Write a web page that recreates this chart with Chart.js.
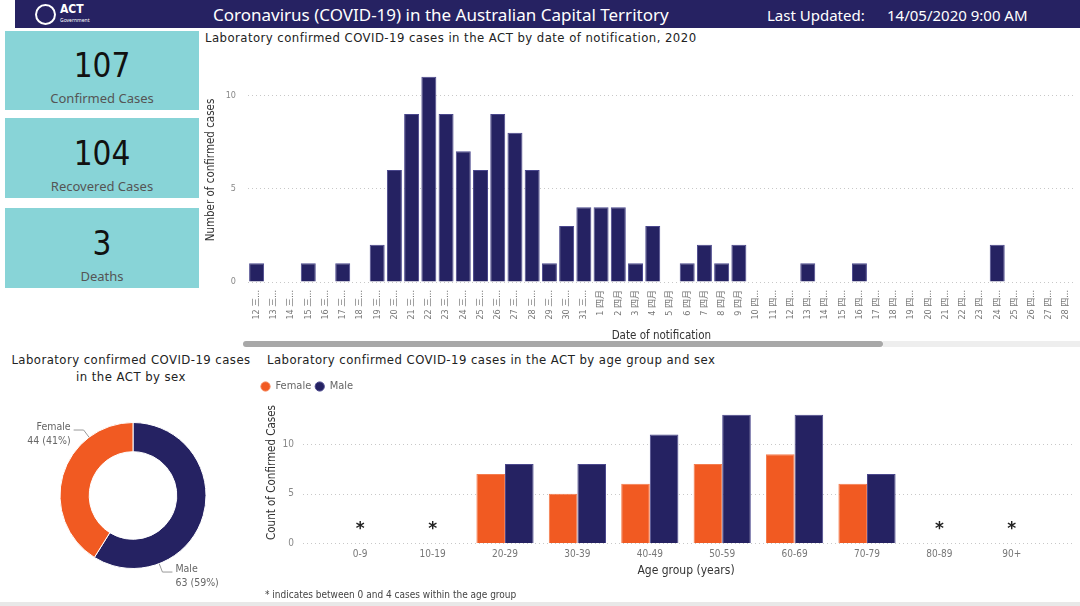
<!DOCTYPE html>
<html>
<head>
<meta charset="utf-8">
<script src="https://cdn.jsdelivr.net/npm/chart.js@4"></script>
<style>
body{margin:0;width:1080px;height:606px;overflow:hidden;background:#fff;position:relative;font-family:"DejaVu Sans Condensed","Noto Sans CJK SC",sans-serif;}
.abs{position:absolute;}
#header{left:15px;top:0;width:1065px;height:28px;background:#262262;}
.htxt{color:#fff;font-family:"Noto Sans",sans-serif;white-space:nowrap;}
.card{left:5px;width:194px;background:#88d4d7;text-align:center;}
.card .num{position:absolute;left:0;right:0;font-size:33px;color:#111;}
.card .lbl{position:absolute;left:0;right:0;font-family:"Noto Sans",sans-serif;font-size:13px;color:#555;}
.ttl{font-size:13px;color:#222;white-space:nowrap;letter-spacing:0.45px;}
canvas{position:absolute;}
</style>
</head>
<body>
<div id="header" class="abs"></div>
<div class="abs" style="left:35px;top:4px;width:17px;height:17px;border:2px solid #fff;border-radius:50%;"></div>
<div class="abs htxt" style="left:60px;top:2px;font-size:12px;font-weight:bold;font-family:'DejaVu Sans Condensed';">ACT</div>
<div class="abs htxt" style="left:60px;top:17px;font-size:5px;">Government</div>
<div class="abs htxt" style="left:213px;top:3px;font-size:17px;">Coronavirus (COVID-19) in the Australian Capital Territory</div>
<div class="abs htxt" style="left:767px;top:5px;font-size:15px;">Last Updated:</div>
<div class="abs htxt" style="left:887px;top:5px;font-size:15px;">14/05/2020 9:00 AM</div>

<div class="abs card" style="top:31px;height:79px;"><div class="num" style="top:15px;">107</div><div class="lbl" style="top:58px;">Confirmed Cases</div></div>
<div class="abs card" style="top:118px;height:80px;"><div class="num" style="top:16px;">104</div><div class="lbl" style="top:59px;">Recovered Cases</div></div>
<div class="abs card" style="top:208px;height:80px;"><div class="num" style="top:16px;">3</div><div class="lbl" style="top:59px;">Deaths</div></div>

<div class="abs ttl" style="left:205px;top:30px;">Laboratory confirmed COVID-19 cases in the ACT by date of notification, 2020</div>
<canvas id="daily" width="885" height="310" style="left:200px;top:40px;"></canvas>
<div class="abs" style="left:243px;top:341px;width:640px;height:6px;background:#a8a8a8;border-radius:3px;"></div>
<div class="abs" style="left:883px;top:341px;width:197px;height:6px;background:#eeeeee;"></div>

<div class="abs ttl" style="left:0;width:262px;top:351px;text-align:center;line-height:17px;">Laboratory confirmed COVID-19 cases<br>in the ACT by sex</div>
<canvas id="sex" width="260" height="210" style="left:0;top:390px;"></canvas>

<div class="abs ttl" style="left:267px;top:352px;">Laboratory confirmed COVID-19 cases in the ACT by age group and sex</div>
<canvas id="age" width="828" height="211" style="left:257px;top:374px;"></canvas>
<div class="abs" style="left:265px;top:589px;font-size:10px;color:#444;white-space:nowrap;">* indicates between 0 and 4 cases within the age group</div>
<div class="abs" style="left:0;top:602px;width:1080px;height:4px;background:#e8e8e8;"></div>

<script>
// daily notifications (Mar 12 - Apr 28)
const dateLabels = [
  '12 三月','13 三月','14 三月','15 三月','16 三月','17 三月','18 三月','19 三月','20 三月','21 三月',
  '22 三月','23 三月','24 三月','25 三月','26 三月','27 三月','28 三月','29 三月','30 三月','31 三月',
  '1 四月','2 四月','3 四月','4 四月','5 四月','6 四月','7 四月','8 四月','9 四月','10 四月',
  '11 四月','12 四月','13 四月','14 四月','15 四月','16 四月','17 四月','18 四月','19 四月','20 四月',
  '21 四月','22 四月','23 四月','24 四月','25 四月','26 四月','27 四月','28 四月'
];
const dailyCases = [
  1,0,0,1,0,1,0,2,6,9,
  11,9,7,6,9,8,6,1,3,4,
  4,4,1,3,0,1,2,1,2,0,
  0,0,1,0,0,1,0,0,0,0,
  0,0,0,2,0,0,0,0
];

// by age group and sex
const ageGroups = ['0-9','10-19','20-29','30-39','40-49','50-59','60-69','70-79','80-89','90+'];
const femaleByAge = [null,null,7,5,6,8,9,6,null,null];
const maleByAge = [null,null,8,8,11,13,13,7,null,null];
const suppressedAges = ['0-9','10-19','80-89','90+'];

// by sex
const sexLabels = ['Male','Female'];
const sexCases = [63,44];

const NAVY = '#252262';
const ORANGE = '#f15a22';
const FONT = '"DejaVu Sans Condensed", "Noto Sans CJK SC", sans-serif';
Chart.defaults.font.family = FONT;

const keepFives = s => { s.ticks = s.ticks.filter(t => t.value % 5 === 0); };

new Chart(document.getElementById('daily'), {
  type: 'bar',
  data: {
    labels: dateLabels,
    datasets: [{
      data: dailyCases,
      backgroundColor: NAVY,
      borderColor: '#4a478c',
      borderWidth: 1,
      barPercentage: 0.87,
      categoryPercentage: 1
    }]
  },
  options: {
    responsive: false,
    animation: false,
    layout: { padding: { top: 18, right: 8, left: 0, bottom: 0 } },
    plugins: { legend: { display: false }, tooltip: { enabled: false } },
    scales: {
      x: {
        grid: { display: false, drawTicks: false },
        border: { display: false },
        ticks: {
          autoSkip: false, minRotation: 90, maxRotation: 90, padding: 8,
          color: '#777', font: { size: 9 },
          callback(v) {
            const l = this.getLabelForValue(v);
            return l.length > 4 ? l.slice(0, 4) + '...' : l;
          }
        },
        title: { display: true, text: 'Date of notification', color: '#333', font: { size: 11.5 }, padding: { top: 0, bottom: 7 } },
        afterFit(s) { s.height = 68; }
      },
      y: {
        min: 0, max: 12,
        grid: { color: '#c8c8c8', drawTicks: false },
        border: { display: false, dash: [1, 3] },
        ticks: { stepSize: 5, color: '#888', font: { size: 9 }, padding: 12 },
        afterBuildTicks: keepFives,
        title: { display: true, text: 'Number of confirmed cases', color: '#333', font: { size: 11.5 }, padding: { top: 4, bottom: 0 } },
        afterFit(s) { s.width = 48; }
      }
    }
  }
});

// doughnut labels with leader lines
const sliceLabels = {
  id: 'sliceLabels',
  afterDatasetsDraw(chart) {
    const { ctx } = chart;
    const meta = chart.getDatasetMeta(0);
    const total = sexCases.reduce((a, b) => a + b, 0);
    ctx.save();
    ctx.strokeStyle = '#999';
    ctx.lineWidth = 1;
    ctx.font = '10.5px ' + FONT;
    ctx.fillStyle = '#666';
    meta.data.forEach((arc, i) => {
      const a = arc.startAngle + 0.75 * (arc.endAngle - arc.startAngle);
      const r = arc.outerRadius;
      const x0 = arc.x + Math.cos(a) * r, y0 = arc.y + Math.sin(a) * r;
      const x1 = arc.x + Math.cos(a) * (r + 9), y1 = arc.y + Math.sin(a) * (r + 9);
      const left = x1 < arc.x;
      const x2 = x1 + (left ? -10 : 10);
      ctx.beginPath();
      ctx.moveTo(x0, y0); ctx.lineTo(x1, y1); ctx.lineTo(x2, y1);
      ctx.stroke();
      ctx.textAlign = left ? 'right' : 'left';
      ctx.textBaseline = 'middle';
      const tx = x2 + (left ? -3 : 3);
      const pct = Math.round(sexCases[i] / total * 100);
      ctx.fillText(sexLabels[i], tx, y1 - 3);
      ctx.fillText(sexCases[i] + ' (' + pct + '%)', tx, y1 + 11);
    });
    ctx.restore();
  }
};

new Chart(document.getElementById('sex'), {
  type: 'doughnut',
  data: {
    labels: sexLabels,
    datasets: [{ data: sexCases, backgroundColor: [NAVY, ORANGE], borderColor: '#fff', borderWidth: 1, hoverOffset: 0 }]
  },
  options: {
    responsive: false,
    animation: false,
    cutout: '60%',
    layout: { padding: { left: 59, right: 53, top: 32, bottom: 31 } },
    plugins: { legend: { display: false }, tooltip: { enabled: false } }
  },
  plugins: [sliceLabels]
});

// dotted gridlines running a little past the bars, plus "*" marks
const ageExtras = {
  id: 'ageExtras',
  beforeDatasetsDraw(chart) {
    const { ctx, chartArea, scales: { y } } = chart;
    ctx.save();
    ctx.strokeStyle = '#c8c8c8';
    ctx.setLineDash([1, 3]);
    ctx.lineWidth = 1;
    y.ticks.forEach(t => {
      const py = Math.round(y.getPixelForValue(t.value)) + 0.5;
      ctx.beginPath();
      ctx.moveTo(chartArea.left - 21, py);
      ctx.lineTo(chartArea.right + 24, py);
      ctx.stroke();
    });
    ctx.restore();
  },
  afterDatasetsDraw(chart) {
    const { ctx, scales: { x, y } } = chart;
    ctx.save();
    ctx.font = 'bold 17px "DejaVu Sans"';
    ctx.fillStyle = '#222';
    ctx.textAlign = 'center';
    ctx.textBaseline = 'middle';
    suppressedAges.forEach(g => {
      ctx.fillText('*', x.getPixelForValue(ageGroups.indexOf(g)), y.getPixelForValue(1.4));
    });
    ctx.restore();
  }
};

new Chart(document.getElementById('age'), {
  type: 'bar',
  data: {
    labels: ageGroups,
    datasets: [
      { label: 'Female', data: femaleByAge, backgroundColor: ORANGE, borderColor: '#f47c4e', borderWidth: 1 },
      { label: 'Male', data: maleByAge, backgroundColor: NAVY, borderColor: '#4a478c', borderWidth: 1 }
    ]
  },
  options: {
    responsive: false,
    animation: false,
    datasets: { bar: { barPercentage: 1, categoryPercentage: 0.79 } },
    layout: { padding: { top: 0, right: 37, left: 0, bottom: 0 } },
    plugins: {
      tooltip: { enabled: false },
      legend: {
        position: 'top', align: 'start',
        labels: { usePointStyle: true, pointStyle: 'circle', boxWidth: 9, boxHeight: 6.5, padding: 4, color: '#666', font: { size: 11 } }
      }
    },
    scales: {
      x: {
        grid: { display: false, drawTicks: false },
        border: { display: false },
        ticks: { color: '#777', font: { size: 10 }, padding: 5 },
        title: { display: true, text: 'Age group (years)', color: '#333', font: { size: 12 }, padding: { top: 0, bottom: 7 } },
        afterFit(s) { s.height = 42; }
      },
      y: {
        min: 0, max: 14.3,
        grid: { display: false },
        border: { display: false },
        ticks: { stepSize: 5, color: '#888', font: { size: 10 }, padding: 22 },
        afterBuildTicks: keepFives,
        title: { display: true, text: 'Count of Confirmed Cases', color: '#333', font: { size: 11.5 }, padding: { top: 8, bottom: 0 } },
        afterFit(s) { s.width = 67; }
      }
    }
  },
  plugins: [ageExtras]
});
</script>
</body>
</html>
